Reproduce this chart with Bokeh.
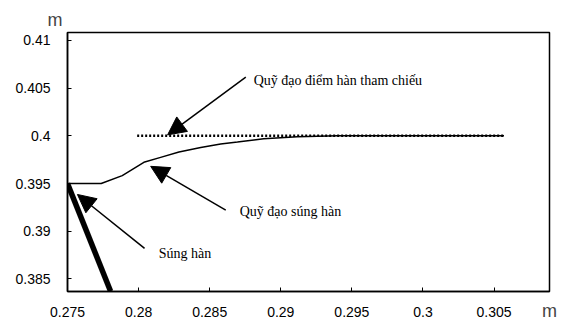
from bokeh.plotting import figure
from bokeh.models import (Range1d, ColumnDataSource, Arrow, NormalHead, LabelSet,
                          FixedTicker, Title)
from bokeh.embed import file_html
from bokeh.resources import INLINE

# ---- data ----
x_ticks = [0.275, 0.28, 0.285, 0.29, 0.295, 0.3, 0.305]
x_tick_labels = ["0.275", "0.28", "0.285", "0.29", "0.295", "0.3", "0.305"]
y_ticks = [0.385, 0.39, 0.395, 0.4, 0.405, 0.41]
y_tick_labels = ["0.385", "0.39", "0.395", "0.4", "0.405", "0.41"]
x_unit = "m"
y_unit = "m"

# reference weld-point trajectory (dotted)
ref_x = [0.2799, 0.3057]
ref_y = [0.400, 0.400]

# welding-gun trajectory
traj_x = [0.2750, 0.27737, 0.27885, 0.28037, 0.28155, 0.28284, 0.28437,
          0.28577, 0.28695, 0.2888, 0.29117, 0.2940, 0.3057]
traj_y = [0.3950, 0.3950, 0.39583, 0.39722, 0.39774, 0.39830, 0.39878,
          0.39914, 0.39934, 0.39969, 0.39990, 0.4000, 0.4000]

# welding gun (thick segment)
gun_x = [0.2750, 0.27803]
gun_y = [0.3950, 0.3837]

# annotations: text, anchor and arrow
ann_text = ["Quỹ đạo điểm hàn tham chiếu", "Quỹ đạo súng hàn", "Súng hàn"]
ann_x = [0.28810, 0.28711, 0.28141]
ann_y = [0.40531, 0.39159, 0.38719]
arr_x0 = [0.28754, 0.28613, 0.28042]
arr_y0 = [0.40615, 0.39222, 0.38820]
arr_x1 = [0.28204, 0.28085, 0.27570]
arr_y1 = [0.40010, 0.39680, 0.39385]

x_range = (0.275, 0.3089)
y_range = (0.38368, 0.41083)

# ---- figure ----
p = figure(width=570, height=323, output_backend="svg", toolbar_location=None,
           x_range=Range1d(*x_range), y_range=Range1d(*y_range),
           min_border_left=67, min_border_right=21, min_border_top=32,
           min_border_bottom=31)
p.background_fill_color = "white"
p.border_fill_color = "white"
p.outline_line_color = "black"
p.outline_line_width = 1.5
p.xgrid.visible = False
p.ygrid.visible = False

p.title = Title(text=y_unit, align="left", offset=-20, text_font="Liberation Sans",
                text_font_size="18px", text_font_style="normal", standoff=6)

for ax, ticks, labels in ((p.xaxis[0], x_ticks, x_tick_labels),
                          (p.yaxis[0], y_ticks, y_tick_labels)):
    ax.ticker = FixedTicker(ticks=ticks)
    ax.major_label_overrides = {t: l for t, l in zip(ticks, labels)}
    ax.minor_tick_line_color = None
    ax.major_tick_in = 4
    ax.major_tick_out = 0
    ax.major_tick_line_color = "black"
    ax.axis_line_color = "black"
    ax.axis_line_width = 1.5
    ax.major_label_text_font = "Liberation Sans"
    ax.major_label_text_font_size = "14px"
    ax.major_label_text_color = "black"
p.xaxis.major_label_standoff = 15
p.yaxis.major_label_standoff = 17

xa = p.xaxis[0]
xa.axis_label = x_unit
xa.axis_label_align = "end"
xa.axis_label_standoff = -19
xa.axis_label_text_font = "Liberation Sans"
xa.axis_label_text_font_size = "18px"
xa.axis_label_text_font_style = "normal"

p.line(traj_x, traj_y, line_color="black", line_width=1.5)
p.line(ref_x, ref_y, line_color="black", line_width=2.5, line_dash="2 2")
p.line(gun_x, gun_y, line_color="black", line_width=5.5)

src = ColumnDataSource(dict(x0=arr_x0, y0=arr_y0, x1=arr_x1, y1=arr_y1,
                            tx=ann_x, ty=ann_y, text=ann_text))
p.add_layout(Arrow(end=NormalHead(size=18, fill_color="black", line_color="black"),
                   x_start="x0", y_start="y0", x_end="x1", y_end="y1",
                   line_width=1.5, line_color="black", source=src))
p.add_layout(LabelSet(x="tx", y="ty", text="text", source=src,
                      text_font="Liberation Serif", text_font_size="14px",
                      text_baseline="alphabetic", text_align="left",
                      text_color="black"))

open("out.html", "w").write(file_html(p, INLINE))
